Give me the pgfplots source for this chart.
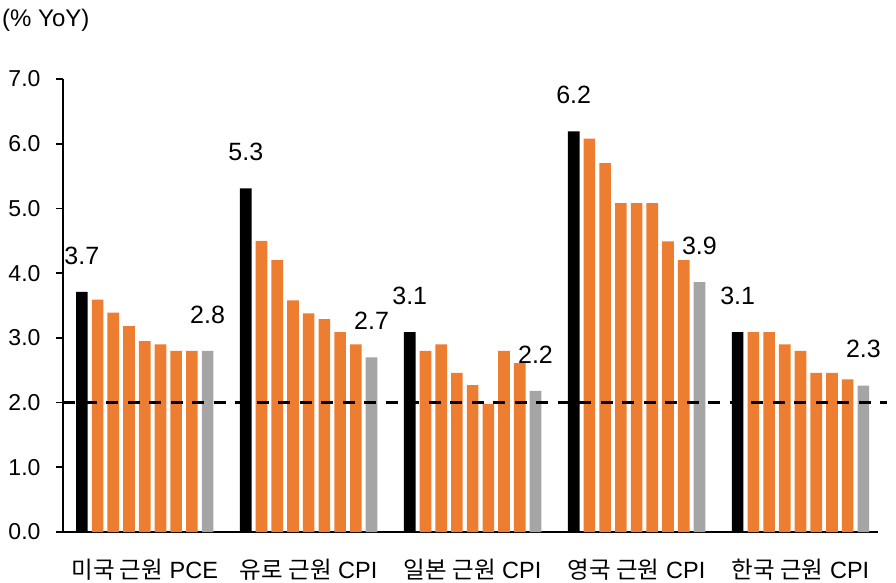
\documentclass[border=0pt]{standalone}
\usepackage{pgfplots}
\pgfplotsset{compat=1.18}
\usepackage{fontspec}
\setmainfont{Liberation Sans}
\newfontfamily\kr{Noto Sans CJK KR}
\definecolor{xlorange}{HTML}{ED7D31}
\definecolor{xlgray}{HTML}{A5A5A5}
\begin{document}
\begin{tikzpicture}[x=1pt,y=1pt]
\useasboundingbox (0,0) rectangle (896,583);
\begin{axis}[
  at={(63pt,51pt)}, anchor=south west,
  scale only axis, width=815pt, height=453pt,
  xmin=-1.2, xmax=50.65, ymin=0, ymax=7,
  axis x line=bottom, axis y line=left,
  axis line style={-, line width=1.8pt, black},
  ytick={0,1,...,7},
  /pgf/number format/fixed, /pgf/number format/fixed zerofill, /pgf/number format/precision=1,
  /pgf/number format/assume math mode=true,
  yticklabel style={font=\fontsize{23}{27}\selectfont, xshift=-12pt},
  ytick style={line width=1.8pt, black},
  tick align=outside, major tick length=7pt,
  xtick={4,14.43,24.86,35.29,45.72},
  xticklabels={{{\kr 미국 근원} PCE},{{\kr 유로 근원} CPI},{{\kr 일본 근원} CPI},{{\kr 영국 근원} CPI},{{\kr 한국 근원} CPI}},
  xticklabel style={font=\fontsize{23.5}{27}\selectfont, yshift=-17pt},
  xtick style={draw=none},
  ybar, bar width=0.74, bar shift=0pt,
  clip=false,
  every node near coord/.append style={font=\fontsize{25}{29}\selectfont, anchor=south, yshift=24pt, black},
]
% black bars
\addplot[fill=black, draw=none, nodes near coords, point meta=explicit symbolic] coordinates {
 (0,3.71) [3.7] (10.43,5.31) [5.3] (20.86,3.09) [3.1] (31.29,6.19) [6.2] (41.72,3.09) [3.1]};
% orange bars
\addplot[fill=xlorange, draw=none] coordinates {
 (1,3.59) (2,3.39) (3,3.18) (4,2.95) (5,2.9) (6,2.8) (7,2.8)
 (11.43,4.5) (12.43,4.2) (13.43,3.58) (14.43,3.38) (15.43,3.29) (16.43,3.09) (17.43,2.9)
 (21.86,2.8) (22.86,2.9) (23.86,2.46) (24.86,2.27) (25.86,1.98) (26.86,2.8) (27.86,2.61)
 (32.29,6.08) (33.29,5.7) (34.29,5.08) (35.29,5.08) (36.29,5.08) (37.29,4.49) (38.29,4.2)
 (42.72,3.09) (43.72,3.09) (44.72,2.9) (45.72,2.8) (46.72,2.46) (47.72,2.46) (48.72,2.36)};
% gray bars
\addplot[fill=xlgray, draw=none, nodes near coords, point meta=explicit symbolic] coordinates {
 (8,2.8) [2.8] (18.43,2.7) [2.7] (28.86,2.18) [2.2] (39.29,3.86) [3.9] (49.72,2.26) [2.3]};
% 2% target line
\addplot[sharp plot, black, line width=2.4pt, dash pattern=on 12pt off 9.5pt] coordinates {(-1.2,2) (51.25,2)};
\end{axis}
\node[anchor=west, inner sep=0pt, font=\fontsize{24}{28}\selectfont] at (2,563) {(\% YoY)};
\end{tikzpicture}
\end{document}
